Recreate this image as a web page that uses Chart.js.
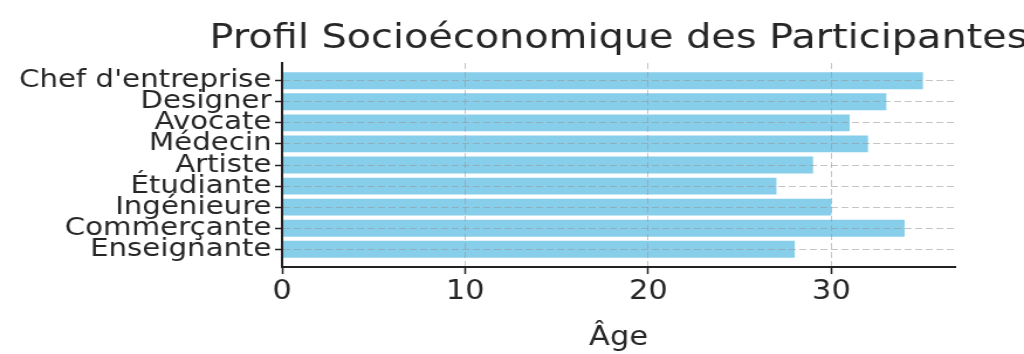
<!DOCTYPE html>
<html>
<head>
<meta charset="utf-8">
<script src="https://cdn.jsdelivr.net/npm/chart.js@4.4.1/dist/chart.umd.min.js"></script>
<style>
  html, body { margin: 0; padding: 0; background: #ffffff; overflow: hidden; }
  /* the reference figure is stretched sideways, so the chart is drawn narrower and scaled */
  #wrap { width: 875px; height: 354px; transform: scaleX(1.1703); transform-origin: 0 0; }
</style>
</head>
<body>
<div id="wrap"><canvas id="profilChart" width="875" height="354"></canvas></div>
<script>
// Data, bottom to top (as matplotlib barh draws it)
var professions = ['Enseignante', 'Commerçante', 'Ingénieure', 'Étudiante', 'Artiste', 'Médecin', 'Avocate', 'Designer', "Chef d'entreprise"];
var ages = [28, 34, 30, 27, 29, 32, 31, 33, 35];
var xTicks = [0, 10, 20, 30];
var chartTitle = 'Profil Socioéconomique des Participantes';

var FONT = "'DejaVu Sans', sans-serif";
var TEXT = '#262626';
var GRID = 'rgba(150, 150, 150, 0.55)';

var points = ages.map(function(a, i) { return { x: a, y: i }; });

// title centred over the plot area like matplotlib, without the
// built-in title's squeeze to the box width
var axesTitle = {
    id: 'axesTitle',
    afterDraw: function(chart) {
        var ctx = chart.ctx;
        var area = chart.chartArea;
        ctx.save();
        ctx.font = '34px ' + FONT;
        ctx.fillStyle = TEXT;
        ctx.textAlign = 'center';
        ctx.textBaseline = 'alphabetic';
        ctx.fillText(chartTitle, (area.left + area.right) / 2, 48);
        ctx.restore();
    }
};

new Chart(document.getElementById('profilChart'), {
    type: 'bar',
    data: {
        datasets: [{
            data: points,
            backgroundColor: '#87CEEB',
            borderWidth: 0,
            barPercentage: 0.8,
            categoryPercentage: 1
        }]
    },
    options: {
        indexAxis: 'y',
        responsive: false,
        animation: false,
        layout: { padding: { left: 0, right: 59, top: 63, bottom: 0 } },
        plugins: {
            legend: { display: false },
            tooltip: { enabled: false },
            title: { display: false }
        },
        scales: {
            x: {
                type: 'linear',
                min: 0,
                max: 36.75,
                offset: false,
                afterFit: function(scale) { scale.height = 87; },
                afterBuildTicks: function(scale) {
                    scale.ticks = xTicks.map(function(v) { return { value: v }; });
                },
                border: { display: true, z: 2, color: '#222222', width: 2, dash: [6, 3] },
                grid: {
                    z: 1,
                    offset: false,
                    color: GRID,
                    lineWidth: 1,
                    drawTicks: true,
                    tickLength: 7,
                    tickColor: '#222222',
                    tickBorderDash: [],
                    tickWidth: 1.5
                },
                ticks: {
                    color: TEXT,
                    padding: 3,
                    font: { family: FONT, size: 26 }
                },
                title: {
                    display: true,
                    text: 'Âge',
                    color: TEXT,
                    font: { family: FONT, size: 26 },
                    padding: { top: 1, bottom: 0 }
                }
            },
            y: {
                type: 'linear',
                min: -0.84,
                max: 8.84,
                offset: false,
                afterFit: function(scale) { scale.width = 241; },
                afterBuildTicks: function(scale) {
                    scale.ticks = professions.map(function(p, i) { return { value: i }; });
                },
                border: { display: true, z: 2, color: '#222222', width: 2, dash: [6, 3] },
                grid: {
                    z: 1,
                    offset: false,
                    color: GRID,
                    lineWidth: 1,
                    drawTicks: true,
                    tickLength: 6,
                    tickColor: '#222222',
                    tickBorderDash: [],
                    tickWidth: 1.5
                },
                ticks: {
                    autoSkip: false,
                    color: TEXT,
                    padding: 3,
                    font: { family: FONT, size: 25 },
                    callback: function(value) { return professions[value]; }
                }
            }
        }
    },
    plugins: [axesTitle]
});
</script>
</body>
</html>
